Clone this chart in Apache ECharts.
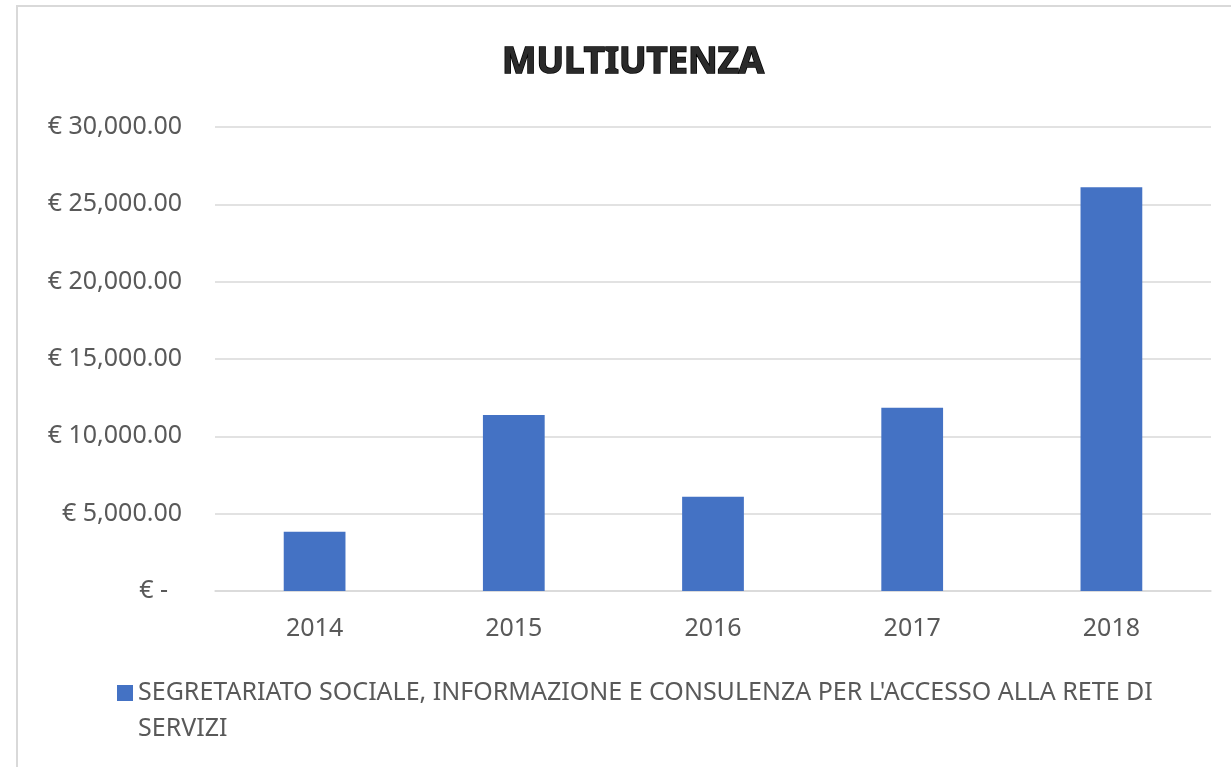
<!DOCTYPE html>
<html>
<head>
<meta charset="utf-8">
<script src="https://cdn.jsdelivr.net/npm/echarts@6/dist/echarts.min.js"></script>
<style>
  html, body { margin: 0; padding: 0; background: #fff; }
  #chart { width: 1231px; height: 767px; }
</style>
</head>
<body>
<div id="chart"></div>
<script>
const years = ['2014', '2015', '2016', '2017', '2018'];
const seriesName = "SEGRETARIATO SOCIALE, INFORMAZIONE E CONSULENZA PER L'ACCESSO ALLA RETE DI SERVIZI";
const amounts = [3830, 11380, 6100, 11850, 26100];

const FONT = 'Noto Sans';
const GREY = '#595959';

const chart = echarts.init(document.getElementById('chart'));

const formatEuro = v => {
  if (v === 0) return '{z|€ -}';
  return '€ ' + v.toLocaleString('en-US', { minimumFractionDigits: 2, maximumFractionDigits: 2 });
};

chart.setOption({
  animation: false,
  backgroundColor: '#fff',
  title: {
    text: 'MULTIUTENZA',
    left: 502,
    top: 44,
    padding: 0,
    textStyle: {
      fontFamily: FONT,
      fontSize: 36.5,
      fontWeight: 'bold',
      color: '#2a2a2a',
      textBorderColor: '#000',
      textBorderWidth: 1.5
    }
  },
  // chart area border (top + left only visible)
  graphic: [{
    type: 'rect',
    shape: { x: 17, y: 6, width: 1400, height: 900 },
    style: { fill: null, stroke: '#d9d9d9', lineWidth: 2 },
    silent: true
  }],
  legend: {
    left: 112,
    top: 634,
    itemWidth: 16,
    itemHeight: 16,
    icon: 'rect',
    // blank first line keeps the icon level with the first text line
    formatter: name => ' \n' + name.replace(' SERVIZI', '\nSERVIZI'),
    textStyle: {
      fontFamily: FONT,
      fontSize: 25,
      color: GREY,
      lineHeight: 36
    }
  },
  grid: {
    left: 215,
    right: 20,
    top: 127,
    bottom: 176
  },
  xAxis: {
    type: 'category',
    data: years,
    axisTick: { show: false },
    axisLine: { lineStyle: { color: '#d9d9d9', width: 1.5 } },
    axisLabel: {
      fontFamily: FONT,
      fontSize: 25,
      color: GREY,
      margin: 25
    }
  },
  yAxis: {
    type: 'value',
    min: 0,
    max: 30000,
    interval: 5000,
    axisLine: { show: false },
    axisTick: { show: false },
    splitLine: { lineStyle: { color: '#d9d9d9', width: 1.5 } },
    axisLabel: {
      fontFamily: FONT,
      fontSize: 25,
      color: GREY,
      margin: 33,
      formatter: formatEuro,
      rich: {
        z: { fontFamily: FONT, fontSize: 25, color: GREY, padding: [0, 14, 0, 0] }
      }
    }
  },
  series: [{
    name: seriesName,
    type: 'bar',
    data: amounts,
    barWidth: '31%',
    itemStyle: { color: '#4472C4' }
  }]
});
</script>
</body>
</html>
